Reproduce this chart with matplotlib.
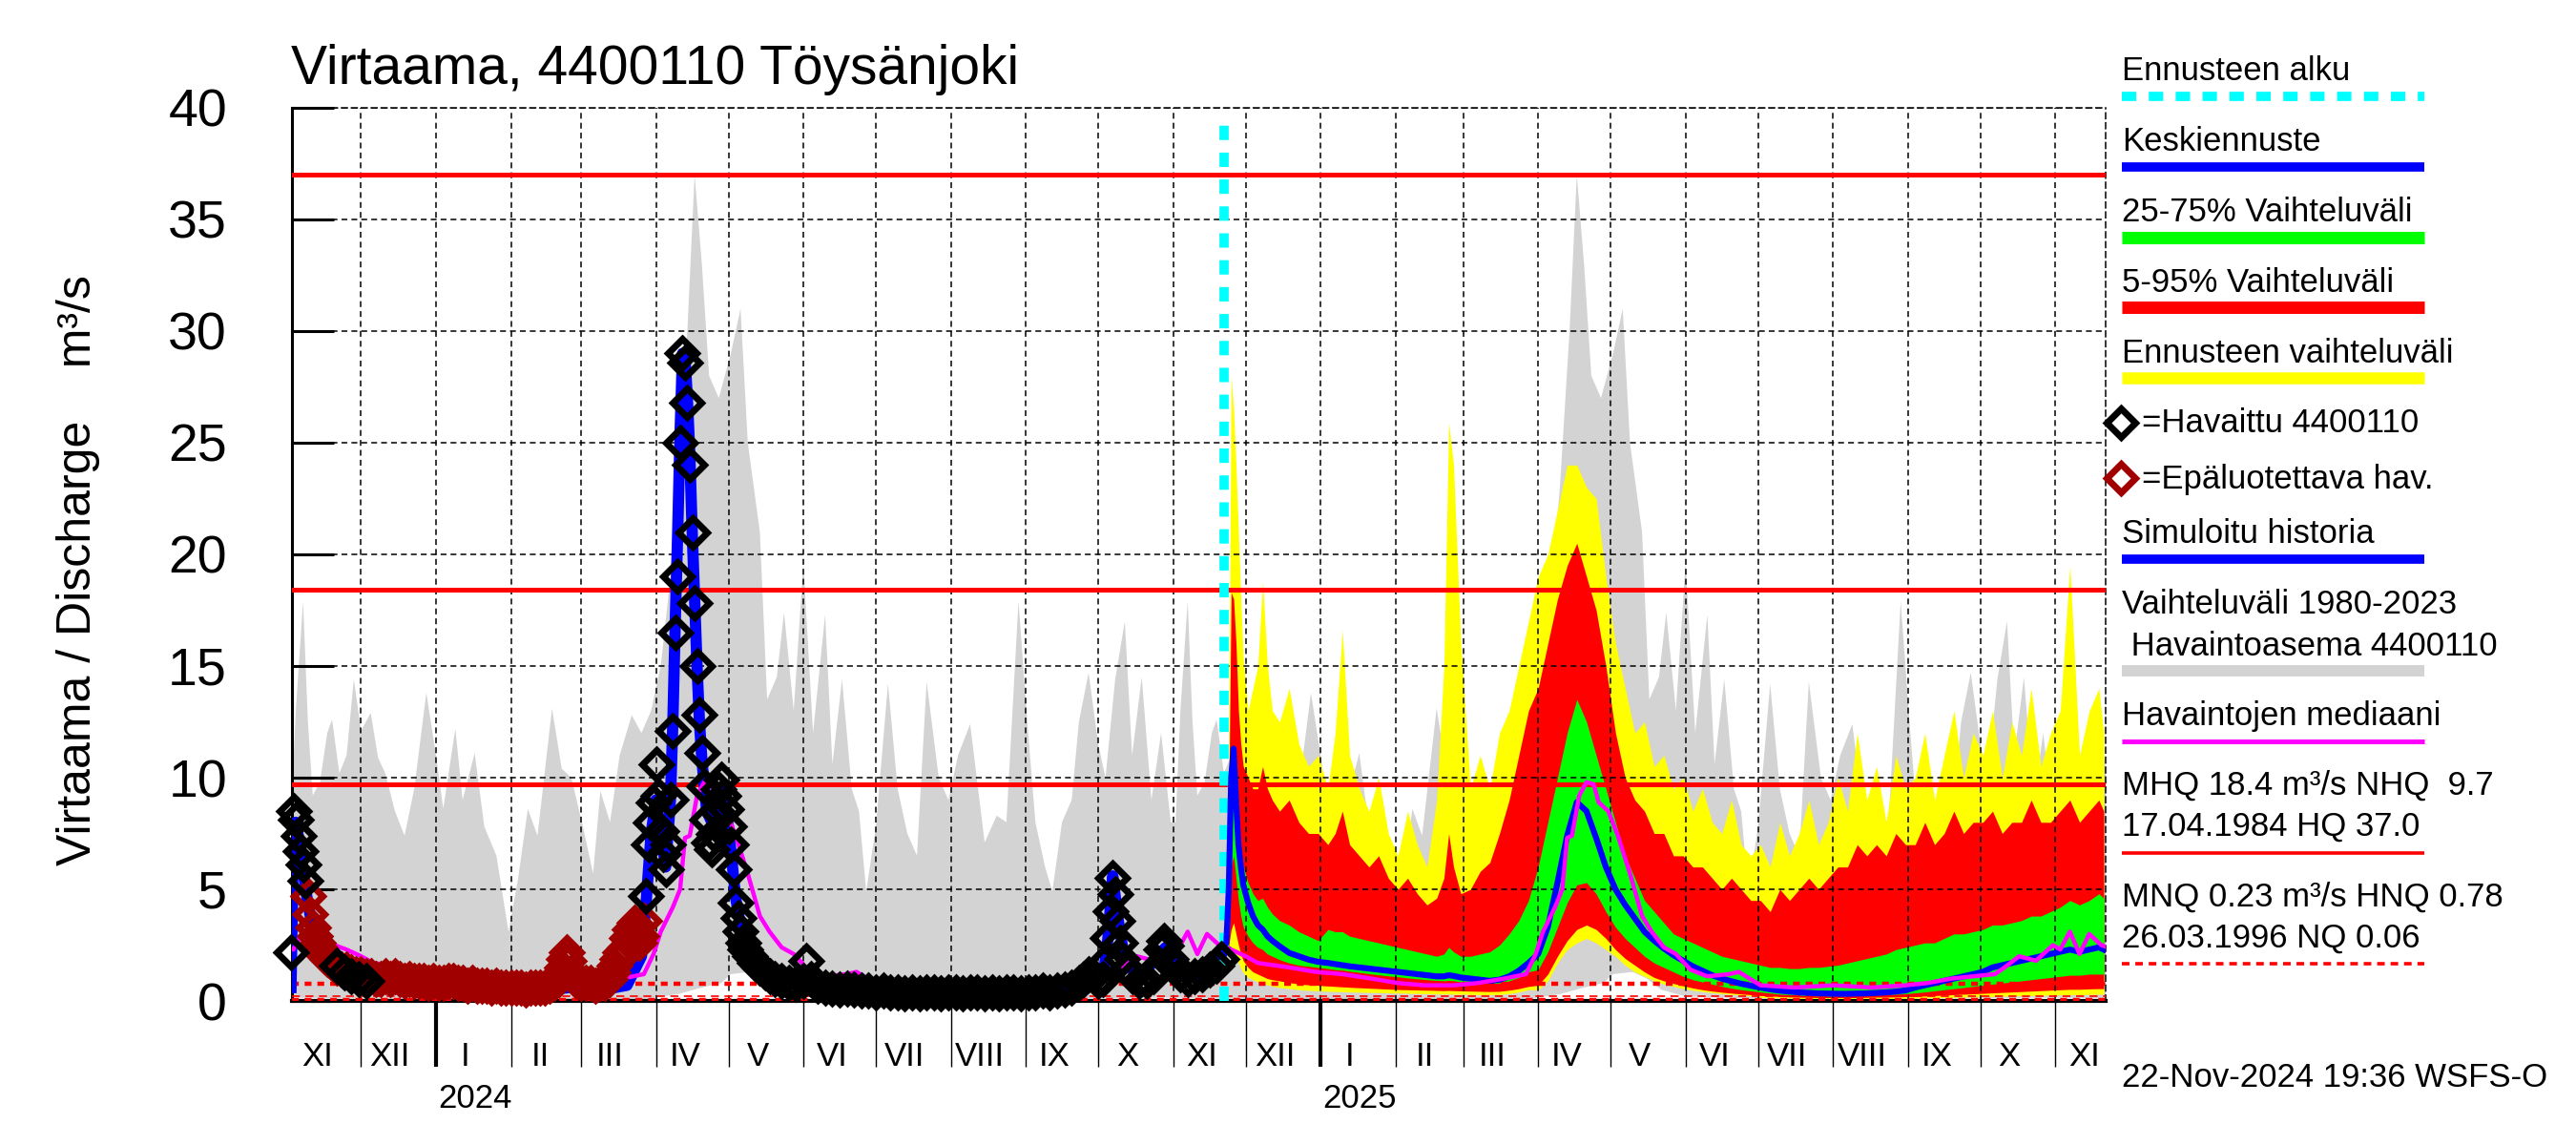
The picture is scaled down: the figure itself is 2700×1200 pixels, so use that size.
import numpy as np
import matplotlib
matplotlib.use('Agg')
import matplotlib.pyplot as plt
import matplotlib.dates as mdates
from matplotlib.lines import Line2D

plt.rcParams['font.family'] = ['Liberation Sans', 'DejaVu Sans']

# ---------------- data ----------------
# historical variation 1980-2023 (same every year), month-day -> m3/s
hmax_md = ['01-01', '01-04', '01-09', '01-12', '01-17', '01-21', '01-26', '01-31',
           '02-04', '02-08', '02-12', '02-18', '02-22', '02-26',
           '03-02', '03-06', '03-09', '03-13', '03-17', '03-22', '03-26', '03-30',
           '04-03', '04-07', '04-10', '04-14', '04-17', '04-20', '04-23', '04-27',
           '05-02', '05-06', '05-09', '05-14', '05-17', '05-21', '05-24', '05-28',
           '06-01', '06-05', '06-10', '06-13', '06-17', '06-21', '06-24', '06-27',
           '07-01', '07-06', '07-10', '07-14', '07-18', '07-22', '07-27', '07-31',
           '08-04', '08-09', '08-15', '08-20', '08-24', '08-29',
           '09-02', '09-05', '09-09', '09-12', '09-16', '09-20', '09-23', '09-27',
           '10-01', '10-04', '10-08', '10-12', '10-15', '10-19', '10-23', '10-27', '10-31',
           '11-02', '11-04', '11-07', '11-09', '11-11', '11-14', '11-17', '11-19', '11-22',
           '11-25', '11-28', '12-01', '12-05', '12-08', '12-11', '12-15', '12-19', '12-23',
           '12-28']
hmax_val = [11.0, 8.6, 12.2, 9.0, 11.1, 7.8, 6.5, 3.1,
            5.5, 8.6, 7.4, 13.1, 10.4, 10.0,
            7.7, 5.7, 9.4, 8.0, 11.0, 12.8, 12.0, 13.0,
            15.0, 19.0, 23.0, 30.0, 37.0, 33.0, 28.0, 27.0,
            29.0, 31.0, 25.0, 21.0, 13.5, 14.5, 17.4, 13.0,
            19.6, 12.0, 17.3, 10.6, 14.4, 9.5, 8.5, 4.9,
            7.8, 14.2, 9.5, 7.5, 6.5, 14.3, 10.0, 9.0,
            11.0, 12.4, 7.1, 8.3, 8.0, 17.9,
            12.0, 8.0, 6.0, 4.9, 8.0, 9.0, 12.5, 14.7,
            11.5, 10.0, 14.4, 17.0, 11.0, 14.5, 9.0, 12.0, 8.0,
            8.0, 13.0, 17.9, 12.5, 9.2, 9.8, 12.0, 12.6, 10.2,
            11.0, 14.4, 12.1, 12.9, 10.9, 10.2, 8.5, 7.4, 9.5,
            13.8]
hmin_md = ['01-01', '02-01', '03-01', '03-26', '04-10', '04-20', '04-28', '05-02',
           '05-10', '05-16', '05-22', '06-01', '07-01', '08-01', '09-01', '10-01',
           '11-01', '12-01', '12-31']
hmin_val = [0.08, 0.07, 0.06, 0.06, 0.3, 0.6, 0.8, 1.2,
            1.3, 1.0, 0.5, 0.2, 0.1, 0.1, 0.1, 0.12,
            0.15, 0.1, 0.08]
# median of observations
med_md = ['01-10', '01-22', '02-02', '02-13', '02-25', '03-07', '03-18', '03-27', '03-31',
          '04-03', '04-08', '04-11', '04-13', '04-15', '04-18', '04-21', '04-24', '04-26',
          '04-30', '05-04', '05-09', '05-14', '05-18', '05-23', '05-28', '06-03', '06-10',
          '06-19', '06-23', '07-02', '07-16', '08-01', '08-17', '08-31', '09-09', '09-19',
          '09-28', '10-07', '10-11', '10-17', '10-24', '10-31', '11-03', '11-07', '11-11',
          '11-15', '11-20', '11-25', '12-01', '12-06', '12-19', '12-30']
med_val = [1.2, 1.0, 0.8, 0.7, 0.7, 0.8, 1.0, 1.2, 2.1,
           3.1, 4.2, 5.0, 7.3, 7.4, 9.2, 9.8, 9.7, 8.9,
           8.5, 7.4, 5.7, 3.8, 3.1, 2.4, 2.1, 1.4, 1.1,
           1.2, 1.3, 0.7, 0.6, 0.7, 0.6, 0.7, 0.8, 1.0,
           1.1, 1.2, 1.5, 2.0, 1.8, 2.5, 2.3, 3.1, 2.1,
           3.0, 2.5, 2.3, 2.0, 1.7, 1.5, 1.3]

# observed 4400110
obs_dates = ['2023-11-02', '2023-11-03', '2023-11-04', '2023-11-05', '2023-11-06', '2023-11-07',
             '2023-11-08', '2023-11-21', '2023-11-24', '2023-11-27', '2023-11-30', '2023-12-03',
             '2024-03-28', '2024-03-29', '2024-03-30', '2024-03-31', '2024-04-01', '2024-04-02',
             '2024-04-03', '2024-04-04', '2024-04-05', '2024-04-06', '2024-04-07', '2024-04-08',
             '2024-04-09', '2024-04-10', '2024-04-11', '2024-04-12', '2024-04-13', '2024-04-14',
             '2024-04-15', '2024-04-16', '2024-04-17', '2024-04-18', '2024-04-19', '2024-04-20',
             '2024-04-21', '2024-04-22', '2024-04-23', '2024-04-24', '2024-04-25', '2024-04-26',
             '2024-04-27', '2024-04-28', '2024-04-29', '2024-04-30', '2024-05-01', '2024-05-02',
             '2024-05-03', '2024-05-04', '2024-05-05', '2024-05-06', '2024-05-07', '2024-05-08',
             '2024-05-10', '2024-05-12', '2024-05-14', '2024-05-16', '2024-05-18', '2024-05-20',
             '2024-05-23', '2024-05-26', '2024-05-29', '2024-06-01', '2024-06-02', '2024-06-04',
             '2024-06-07', '2024-06-10', '2024-06-13', '2024-06-16', '2024-06-19', '2024-06-22',
             '2024-06-25', '2024-06-28', '2024-07-01', '2024-07-04', '2024-07-07', '2024-07-10',
             '2024-07-13', '2024-07-16', '2024-07-19', '2024-07-22', '2024-07-25', '2024-07-28',
             '2024-07-31', '2024-08-03', '2024-08-06', '2024-08-09', '2024-08-12', '2024-08-15',
             '2024-08-18', '2024-08-21', '2024-08-24', '2024-08-27', '2024-08-30', '2024-09-02',
             '2024-09-05', '2024-09-08', '2024-09-11', '2024-09-14', '2024-09-17', '2024-09-20',
             '2024-09-23', '2024-09-25', '2024-09-27', '2024-09-29', '2024-10-01', '2024-10-03',
             '2024-10-04', '2024-10-05', '2024-10-06', '2024-10-07', '2024-10-08', '2024-10-09',
             '2024-10-10', '2024-10-11', '2024-10-13', '2024-10-15', '2024-10-18', '2024-10-21',
             '2024-10-24', '2024-10-26', '2024-10-27', '2024-10-28', '2024-10-29', '2024-10-31',
             '2024-11-02', '2024-11-04', '2024-11-07', '2024-11-10', '2024-11-13', '2024-11-16',
             '2024-11-19', '2024-11-21']
obs_vals = [2.2, 8.5, 8.1, 7.4, 6.7, 6.1,
            5.4, 1.6, 1.3, 1.1, 1.0, 0.9,
            4.7, 7.0, 8.0, 8.9, 10.6, 9.2,
            7.6, 6.6, 5.9, 7.0, 9.0, 12.1,
            16.5, 19.0, 25.0, 29.0, 28.6, 26.8,
            24.0, 21.0, 17.8, 15.0, 12.8, 11.1,
            9.6, 8.1, 7.1, 6.8, 7.5, 8.5,
            9.5, 9.9, 9.2, 8.6, 7.8, 7.0,
            5.9, 4.4, 3.7, 3.1, 2.6, 2.3,
            2.0, 1.7, 1.5, 1.3, 1.1, 1.0,
            0.9, 0.8, 0.75, 0.9, 1.8, 1.0,
            0.7, 0.6, 0.55, 0.5, 0.55, 0.5,
            0.45, 0.45, 0.4, 0.45, 0.4, 0.4,
            0.35, 0.4, 0.35, 0.4, 0.4, 0.35,
            0.4, 0.4, 0.35, 0.4, 0.4, 0.35,
            0.4, 0.35, 0.4, 0.4, 0.35, 0.4,
            0.4, 0.45, 0.4, 0.45, 0.5, 0.6,
            0.8, 1.0, 1.2, 1.1, 0.9, 1.0,
            1.8, 2.8, 4.0, 5.5, 4.8, 3.6,
            2.6, 1.9, 1.4, 1.1, 0.9, 0.9,
            1.1, 1.6, 2.3, 2.7, 2.5, 1.9,
            1.5, 1.2, 1.0, 1.1, 1.2, 1.4,
            1.6, 1.9]
# unreliable observations
unrel_dates = ['2023-11-09', '2023-11-10', '2023-11-11', '2023-11-12', '2023-11-13', '2023-11-14',
               '2023-11-15', '2023-11-16', '2023-11-17', '2023-11-18', '2023-11-19', '2023-11-21',
               '2023-11-23', '2023-11-25', '2023-11-27', '2023-11-29', '2023-12-01', '2023-12-03',
               '2023-12-05', '2023-12-07', '2023-12-09', '2023-12-11', '2023-12-13', '2023-12-15',
               '2023-12-17', '2023-12-19', '2023-12-21', '2023-12-23', '2023-12-25', '2023-12-27',
               '2023-12-29', '2023-12-31', '2024-01-02', '2024-01-04', '2024-01-06', '2024-01-08',
               '2024-01-10', '2024-01-12', '2024-01-14', '2024-01-16', '2024-01-18', '2024-01-20',
               '2024-01-22', '2024-01-24', '2024-01-26', '2024-01-28', '2024-01-30', '2024-02-01',
               '2024-02-03', '2024-02-05', '2024-02-07', '2024-02-09', '2024-02-11', '2024-02-13',
               '2024-02-15', '2024-02-17', '2024-02-19', '2024-02-21', '2024-02-22', '2024-02-23',
               '2024-02-24', '2024-02-25', '2024-02-26', '2024-02-28', '2024-03-01', '2024-03-03',
               '2024-03-05', '2024-03-07', '2024-03-09', '2024-03-11', '2024-03-13', '2024-03-14',
               '2024-03-15', '2024-03-16', '2024-03-17', '2024-03-18', '2024-03-19', '2024-03-20',
               '2024-03-21', '2024-03-22', '2024-03-23', '2024-03-24', '2024-03-25', '2024-03-26',
               '2024-03-27']
unrel_vals = [4.7, 3.9, 3.3, 2.9, 2.6, 2.4,
              2.2, 2.0, 1.9, 1.8, 1.7, 1.5,
              1.4, 1.4, 1.3, 1.2, 1.2, 1.1,
              1.1, 1.0, 1.0, 1.1, 1.0, 1.1,
              1.0, 0.9, 1.0, 0.9, 0.9, 0.9,
              0.8, 0.9, 0.8, 0.8, 0.9, 0.9,
              0.8, 0.8, 0.7, 0.8, 0.7, 0.7,
              0.7, 0.6, 0.7, 0.6, 0.6, 0.6,
              0.6, 0.6, 0.5, 0.6, 0.6, 0.6,
              0.6, 0.7, 0.8, 1.0, 1.5, 1.9,
              2.2, 1.8, 1.3, 0.9, 0.8, 0.8,
              0.8, 0.7, 0.8, 0.8, 1.0, 1.3,
              1.6, 1.9, 2.2, 2.0, 2.4, 2.8,
              3.2, 2.8, 3.5, 3.1, 2.6, 2.9,
              3.6]
# simulated history
sim_dates = ['2023-11-02', '2023-11-03', '2023-11-04', '2023-11-06', '2023-11-08', '2023-11-10',
             '2023-11-13', '2023-11-17', '2023-11-22', '2023-12-01', '2023-12-15', '2024-01-01',
             '2024-01-20', '2024-02-10', '2024-02-25', '2024-03-10', '2024-03-20', '2024-03-26',
             '2024-03-28', '2024-03-30', '2024-04-01', '2024-04-03', '2024-04-05', '2024-04-07',
             '2024-04-08', '2024-04-09', '2024-04-10', '2024-04-11', '2024-04-12', '2024-04-13',
             '2024-04-14', '2024-04-15', '2024-04-16', '2024-04-17', '2024-04-18', '2024-04-19',
             '2024-04-20', '2024-04-22', '2024-04-25', '2024-04-28', '2024-05-01', '2024-05-04',
             '2024-05-07', '2024-05-12', '2024-05-20', '2024-06-01', '2024-06-15', '2024-07-01',
             '2024-08-01', '2024-09-01', '2024-09-20', '2024-09-28', '2024-10-03', '2024-10-05',
             '2024-10-07', '2024-10-09', '2024-10-12', '2024-10-18', '2024-10-27', '2024-10-29',
             '2024-11-02', '2024-11-10', '2024-11-18', '2024-11-22']
sim_vals = [0.6, 7.0, 8.0, 6.8, 5.0, 3.8,
            2.5, 1.6, 1.1, 0.8, 0.6, 0.5,
            0.45, 0.4, 0.6, 0.5, 0.7, 2.0,
            4.5, 7.5, 9.0, 7.5, 6.0, 9.0,
            12.5, 17.0, 21.0, 25.5, 29.0, 28.8,
            27.0, 24.5, 21.0, 18.0, 15.0, 12.5,
            10.8, 8.5, 7.8, 9.5, 7.8, 4.6,
            2.8, 1.8, 1.1, 0.9, 0.5, 0.4,
            0.35, 0.35, 0.6, 1.1, 1.0, 2.8,
            5.6, 3.8, 1.8, 1.0, 2.2, 2.4,
            1.4, 1.1, 1.5, 2.3]

# forecast ensemble statistics
fc_dates = ['2024-11-22', '2024-11-23', '2024-11-24', '2024-11-25', '2024-11-26', '2024-11-27',
            '2024-11-28', '2024-11-29', '2024-11-30', '2024-12-02', '2024-12-04', '2024-12-06',
            '2024-12-08', '2024-12-10', '2024-12-12', '2024-12-15', '2024-12-19', '2024-12-23',
            '2024-12-27', '2024-12-31',
            '2025-01-04', '2025-01-07', '2025-01-10', '2025-01-13', '2025-01-17', '2025-01-21',
            '2025-01-25', '2025-01-29',
            '2025-02-02', '2025-02-06', '2025-02-10', '2025-02-14', '2025-02-18', '2025-02-21',
            '2025-02-23', '2025-02-25', '2025-02-28',
            '2025-03-04', '2025-03-08', '2025-03-12', '2025-03-16', '2025-03-20', '2025-03-24',
            '2025-03-28',
            '2025-04-01', '2025-04-05', '2025-04-09', '2025-04-13', '2025-04-17', '2025-04-21',
            '2025-04-25', '2025-04-29',
            '2025-05-03', '2025-05-07', '2025-05-11', '2025-05-15', '2025-05-19', '2025-05-23',
            '2025-05-27', '2025-05-31',
            '2025-06-04', '2025-06-08', '2025-06-12', '2025-06-16', '2025-06-20', '2025-06-24',
            '2025-06-28',
            '2025-07-02', '2025-07-06', '2025-07-10', '2025-07-14', '2025-07-18', '2025-07-22',
            '2025-07-26', '2025-07-30',
            '2025-08-03', '2025-08-07', '2025-08-11', '2025-08-15', '2025-08-19', '2025-08-23',
            '2025-08-27', '2025-08-31',
            '2025-09-04', '2025-09-08', '2025-09-12', '2025-09-16', '2025-09-20', '2025-09-24',
            '2025-09-28',
            '2025-10-02', '2025-10-06', '2025-10-10', '2025-10-14', '2025-10-18', '2025-10-22',
            '2025-10-26', '2025-10-30',
            '2025-11-03', '2025-11-07', '2025-11-11', '2025-11-15', '2025-11-19', '2025-11-21']
fc_max = [2.4, 3.5, 12, 28, 26.5, 24, 21, 18, 15.3, 13, 14, 15, 18.8, 15, 13, 12.5, 14, 11.5,
          10.5, 11,
          9.5, 12, 16.6, 11, 9.5, 8.5, 10, 7.5,
          6.5, 8.5, 7, 6, 9, 15, 25.9, 24, 16,
          9.5, 11, 9.5, 12, 13, 15, 17,
          19, 20, 22, 24, 24, 23, 22.5, 19,
          16, 14, 12, 12.5, 10.5, 11, 9.5, 10,
          8.5, 9.5, 8, 7.5, 9, 7, 6.5,
          7, 6, 8, 6.5, 7.5, 9, 7, 8,
          10, 8.5, 12, 9, 10.5, 8, 11, 9.5,
          10, 12, 9, 11, 13, 10, 12,
          11, 13, 10, 12.5, 11, 14, 10.5, 12,
          13, 19.5, 11, 13, 14, 12]
fc_p95 = [2.4, 3.0, 9, 18.3, 18.0, 16, 13, 11.5, 10.5, 10, 9.5, 9.5, 10.5, 9.5, 9, 8.5, 9, 8,
          7.5, 7.5,
          7, 7.5, 8.5, 7, 6.5, 6, 6.5, 5.5,
          5, 5.5, 4.8, 4.3, 4.6, 5.5, 7.5, 6, 4.8,
          5.0, 5.8, 6.2, 7.5, 9, 11, 13,
          14, 16, 18, 19.5, 20.5, 19, 17.5, 15,
          12, 10, 9, 8.5, 7.5, 7.5, 6.5, 6.5,
          6, 6, 5.5, 5, 5.5, 5, 4.5,
          4.5, 4, 5, 4.5, 5, 5.5, 5, 5.5,
          6, 6, 7, 6.5, 7, 6.5, 7.5, 7,
          7, 8, 7, 7.5, 8.5, 7.5, 8,
          8, 8.5, 7.5, 8, 8, 9, 8, 8,
          8.5, 9, 8, 8.5, 9, 8.5]
fc_p75 = [2.4, 2.8, 6, 9.5, 10, 9, 7.5, 6.5, 6, 5.3, 4.8, 4.5, 4.6, 4.2, 3.9, 3.6, 3.4, 3.1,
          2.9, 2.7,
          3.2, 3.1, 3.1, 2.9, 2.8, 2.7, 2.6, 2.5,
          2.4, 2.3, 2.2, 2.1, 2.0, 2.1, 2.4, 2.2, 2.0,
          2.0, 2.1, 2.2, 2.5, 3.0, 3.6, 4.5,
          6, 8, 10, 12, 13.5, 12.5, 11, 9.5,
          8, 6.5, 5.5, 4.5, 4, 3.5, 3, 2.8,
          2.6, 2.4, 2.2, 2.0, 1.9, 1.8, 1.7,
          1.6, 1.5, 1.5, 1.45, 1.45, 1.5, 1.5, 1.55,
          1.6, 1.7, 1.8, 1.9, 2.0, 2.1, 2.3, 2.4,
          2.5, 2.6, 2.6, 2.8, 3, 3, 3.1,
          3.2, 3.4, 3.4, 3.5, 3.6, 3.8, 3.8, 4,
          4.2, 4.5, 4.3, 4.5, 4.8, 4.6]
fc_med = [2.4, 2.6, 5, 10, 11.3, 9, 7, 6, 5.2, 4.4, 3.8, 3.4, 3.2, 2.9, 2.7, 2.45, 2.15, 2.0,
          1.85, 1.75,
          1.7, 1.65, 1.6, 1.55, 1.5, 1.45, 1.4, 1.35,
          1.3, 1.25, 1.2, 1.15, 1.1, 1.1, 1.15, 1.12, 1.05,
          1.0, 0.95, 0.9, 0.95, 1.1, 1.35, 1.7,
          2.1, 3.3, 5.3, 7.4, 8.9, 8.5, 7.3, 6.0,
          5.0, 4.3, 3.7, 3.1, 2.7, 2.35, 2.05, 1.8,
          1.55, 1.35, 1.15, 1.0, 0.88, 0.77, 0.68,
          0.6, 0.52, 0.46, 0.42, 0.38, 0.36, 0.34, 0.33,
          0.32, 0.32, 0.33, 0.34, 0.36, 0.38, 0.42, 0.47,
          0.6, 0.7, 0.8, 0.9, 1.0, 1.1, 1.2,
          1.3, 1.5, 1.6, 1.7, 1.8, 1.9, 2.0, 2.1,
          2.2, 2.3, 2.2, 2.3, 2.4, 2.3]
fc_p25 = [2.4, 2.5, 3.5, 6, 6.5, 5.5, 4.5, 3.8, 3.3, 2.9, 2.6, 2.4, 2.3, 2.1, 2.0, 1.85, 1.7,
          1.6, 1.55, 1.5,
          1.45, 1.4, 1.38, 1.33, 1.28, 1.22, 1.17, 1.12,
          1.08, 1.03, 0.99, 0.95, 0.92, 0.9, 0.92, 0.9, 0.86,
          0.82, 0.8, 0.78, 0.8, 0.9, 1.05, 1.3,
          1.4, 2.2, 3.3, 4.4, 5.2, 5.3, 4.8, 4.0,
          3.3, 2.8, 2.4, 2.0, 1.7, 1.5, 1.3, 1.1,
          0.95, 0.85, 0.75, 0.65, 0.57, 0.5, 0.45,
          0.4, 0.35, 0.3, 0.28, 0.25, 0.24, 0.22, 0.22,
          0.22, 0.22, 0.24, 0.25, 0.27, 0.28, 0.3, 0.32,
          0.36, 0.4, 0.45, 0.5, 0.55, 0.6, 0.65,
          0.7, 0.75, 0.8, 0.85, 0.9, 0.95, 1.0, 1.05,
          1.1, 1.15, 1.15, 1.2, 1.2, 1.2]
fc_p05 = [2.4, 2.4, 2.5, 3.2, 3.5, 3.0, 2.5, 2.1, 1.8, 1.5, 1.3, 1.2, 1.1, 1.0, 0.95, 0.9,
          0.82, 0.76, 0.72, 0.7,
          0.67, 0.65, 0.63, 0.61, 0.59, 0.57, 0.55, 0.53,
          0.51, 0.5, 0.49, 0.48, 0.47, 0.46, 0.47, 0.46, 0.45,
          0.44, 0.43, 0.42, 0.43, 0.48, 0.55, 0.65,
          0.7, 1.2, 2.0, 2.7, 3.2, 3.4, 3.2, 2.8,
          2.3, 1.9, 1.6, 1.3, 1.05, 0.9, 0.78, 0.68,
          0.58, 0.5, 0.44, 0.39, 0.35, 0.31, 0.28,
          0.24, 0.22, 0.2, 0.18, 0.17, 0.16, 0.15, 0.15,
          0.15, 0.15, 0.15, 0.16, 0.17, 0.17, 0.18, 0.19,
          0.2, 0.22, 0.24, 0.26, 0.28, 0.3, 0.32,
          0.34, 0.36, 0.38, 0.4, 0.42, 0.44, 0.46, 0.48,
          0.5, 0.52, 0.52, 0.54, 0.55, 0.55]
fc_min = [2.4, 2.3, 2.2, 2.3, 2.3, 2.0, 1.7, 1.45, 1.25, 1.05, 0.95, 0.85, 0.8, 0.72, 0.66,
          0.6, 0.55, 0.5, 0.47, 0.45,
          0.43, 0.42, 0.41, 0.4, 0.39, 0.38, 0.37, 0.36,
          0.35, 0.34, 0.33, 0.32, 0.31, 0.31, 0.31, 0.3, 0.3,
          0.29, 0.28, 0.28, 0.29, 0.32, 0.4, 0.5,
          0.5, 0.9, 1.7, 2.3, 2.6, 2.8, 2.6, 2.3,
          2.0, 1.6, 1.3, 1.1, 0.9, 0.75, 0.65, 0.55,
          0.48, 0.42, 0.37, 0.33, 0.29, 0.26, 0.23,
          0.16, 0.14, 0.13, 0.12, 0.11, 0.1, 0.1, 0.1,
          0.1, 0.1, 0.1, 0.1, 0.1, 0.1, 0.1, 0.11,
          0.12, 0.13, 0.14, 0.15, 0.16, 0.17, 0.18,
          0.19, 0.2, 0.21, 0.22, 0.23, 0.24, 0.25, 0.26,
          0.27, 0.28, 0.28, 0.29, 0.3, 0.3]

HQ, MHQ, NHQ = 37.0, 18.4, 9.7
HNQ, MNQ, NQ = 0.78, 0.23, 0.06
forecast_start = '2024-11-22'
x_start, x_end = '2023-11-02', '2025-11-21'
roman = ['I', 'II', 'III', 'IV', 'V', 'VI', 'VII', 'VIII', 'IX', 'X', 'XI', 'XII']

# ---------------- figure ----------------
FW, FH = 2700, 1200
fig = plt.figure(figsize=(FW / 100, FH / 100), dpi=100)
L, R, T, B = 306, 2207, 113, 1049
ax = fig.add_axes([L / FW, 1 - B / FH, (R - L) / FW, (B - T) / FH])

dn = mdates.datestr2num
years = (2023, 2024, 2025)


def clim(md, vals):
    x = dn([f'{y}-{m}' for y in years for m in md])
    return x, np.tile(np.array(vals, float), len(years))


# historical range (grey)
xu, yu = clim(hmax_md, hmax_val)
xl, yl = clim(hmin_md, hmin_val)
ax.fill(np.r_[xu, xl[::-1]], np.r_[yu, yl[::-1]], color='#d3d3d3', lw=0, zorder=1)

# forecast bands
fx = dn(fc_dates)
ax.fill_between(fx, fc_min, fc_max, color='#ffff00', lw=0, zorder=1.2)
ax.fill_between(fx, fc_p05, fc_p95, color='#ff0000', lw=0, zorder=1.3)
ax.fill_between(fx, fc_p25, fc_p75, color='#00ff00', lw=0, zorder=1.4)

# reference levels
ax.axhline(HQ, color='red', lw=3.6, zorder=3)
ax.axhline(MHQ, color='red', lw=3.6, zorder=3)
ax.axhline(NHQ, color='red', lw=3.6, zorder=3)
ax.axhline(HNQ, color='red', lw=3.2, ls=(0, (1.6, 1.4)), zorder=3)
ax.axhline(MNQ, color='red', lw=1.2, ls=(0, (5, 3.5)), zorder=3)
ax.axhline(NQ, color='red', lw=3.2, ls=(0, (1.6, 1.4)), zorder=3)

# median of observations
xm, ym = clim(med_md, med_val)
ax.plot(xm, ym, color='#ff00ff', lw=3.2, zorder=4.6)

# simulated history and forecast median
ax.plot(dn(sim_dates), sim_vals, color='#0000ff', lw=8.5, zorder=4)
ax.plot(fx, fc_med, color='#0000ff', lw=4.5, zorder=4.5)

# forecast start
fs = dn(forecast_start)
ax.plot([fs, fs], [0, 39.5], color='#00ffff', lw=7, ls=(0, (1.55, 1.35)), zorder=4.2)

# observations
MS, MEW = 15.5, 5.0
ax.plot(dn(unrel_dates), unrel_vals, ls='none', marker='D', ms=MS, mfc='none',
        mec='#a00000', mew=MEW, zorder=6, clip_on=False)
ax.plot(dn(obs_dates), obs_vals, ls='none', marker='D', ms=MS, mfc='none',
        mec='black', mew=MEW, zorder=6.1, clip_on=False)

# axes
ax.set_xlim(dn(x_start) + 0.4, dn(x_end) + 0.8)
ax.set_ylim(0, 40)
ax.set_yticks(np.arange(0, 41, 5))
ax.tick_params(axis='y', direction='in', length=32, width=2.2, labelsize=40, pad=49)

month_starts = dn([f'{y}-{m:02d}-01' for y in years for m in range(1, 13)])
lo, hi = ax.get_xlim()
month_starts = month_starts[(month_starts > lo) & (month_starts < hi)]
is_jan = np.array([mdates.num2date(v).month == 1 for v in month_starts])
ax.set_xticks(month_starts[~is_jan])
ax.set_xticks(month_starts[is_jan], minor=True)
ax.tick_params(axis='x', which='major', direction='out', length=50, width=1.0,
               labelbottom=False)
ax.tick_params(axis='x', which='minor', direction='out', length=50, width=3.0,
               labelbottom=False)
ax.set_axisbelow(False)
grid_style = dict(color='black', lw=1.1, ls=(0, (4, 2.8)))
ax.grid(True, which='both', axis='x', **grid_style)
ax.grid(True, which='major', axis='y', **grid_style)

for s in ('top', 'right'):
    ax.spines[s].set_linestyle((0, (4, 2.8)))
    ax.spines[s].set_linewidth(1.1)
ax.spines['left'].set_linewidth(2.2)
ax.spines['bottom'].set_linewidth(3.0)

# month and year labels
trans = ax.get_xaxis_transform()
for y in years:
    for m in range(1, 13):
        c = dn(f'{y}-{m:02d}-01') + 12
        if lo < c < hi:
            ax.text(c, -0.062, roman[m - 1], transform=trans, ha='center', va='center',
                    fontsize=25)
    c = dn(f'{y}-01-01') + 16
    if lo < c < hi:
        ax.text(c, -0.110, str(y), transform=trans, ha='center', va='center', fontsize=25)

# titles
fig.text(305 / FW, 1 - 88 / FH, 'Virtaama, 4400110 Töysänjoki', fontsize=41,
         ha='left', va='baseline')
fig.text(82 / FW, 1 - 598 / FH, 'Virtaama / Discharge    m³/s', rotation=90,
         fontsize=36, ha='center', va='center')


# ---------------- legend ----------------
def ltext(x, y, s):
    fig.text(x / FW, 1 - y / FH, s, fontsize=25, ha='left', va='baseline')


def lline(y, color, lw, **kw):
    fig.add_artist(Line2D([2224 / FW, 2541 / FW], [1 - y / FH] * 2, color=color, lw=lw,
                          solid_capstyle='butt', transform=fig.transFigure, **kw))


def ldiamond(y, color):
    fig.add_artist(Line2D([2223 / FW], [1 - y / FH], marker='D', ms=MS, mfc='white',
                          mec=color, mew=MEW, ls='none', transform=fig.transFigure))


ltext(2224, 84, 'Ennusteen alku')
lline(100.7, '#00ffff', 7, ls=(0, (1.55, 1.35)))
ltext(2224, 157.5, 'Keskiennuste')
lline(175, '#0000ff', 7)
ltext(2224, 232, '25-75% Vaihteluväli')
lline(249, '#00ff00', 9.4)
ltext(2224, 306, '5-95% Vaihteluväli')
lline(322, '#ff0000', 9.4)
ltext(2224, 380, 'Ennusteen vaihteluväli')
lline(396, '#ffff00', 9)
ldiamond(442.5, 'black')
ltext(2245, 453, '=Havaittu 4400110')
ldiamond(501, '#a00000')
ltext(2245, 512, '=Epäluotettava hav.')
ltext(2224, 569, 'Simuloitu historia')
lline(586, '#0000ff', 7)
ltext(2224, 643, 'Vaihteluväli 1980-2023')
ltext(2224, 687, ' Havaintoasema 4400110')
lline(703, '#d3d3d3', 8.6)
ltext(2224, 760, 'Havaintojen mediaani')
lline(777, '#ff00ff', 3.6)
ltext(2224, 833, 'MHQ 18.4 m³/s NHQ  9.7')
ltext(2224, 876, '17.04.1984 HQ 37.0')
lline(894, '#ff0000', 2.6)
ltext(2224, 950, 'MNQ 0.23 m³/s HNQ 0.78')
ltext(2224, 993, '26.03.1996 NQ 0.06')
lline(1010, '#ff0000', 2.6, ls=(0, (2.2, 1.7)))
ltext(2224, 1139, '22-Nov-2024 19:36 WSFS-O')

fig.savefig('out.png', dpi=100)
